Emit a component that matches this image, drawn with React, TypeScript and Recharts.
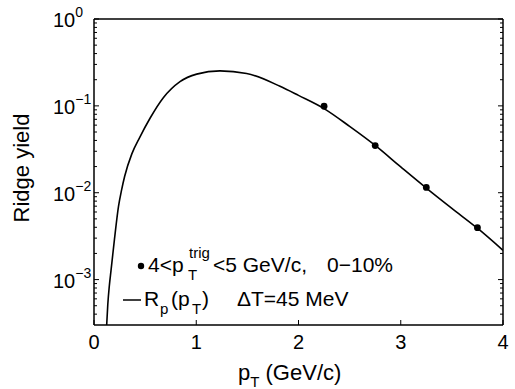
import React from 'react';
import { ComposedChart, Line, Scatter, XAxis, YAxis } from 'recharts';

// curve R_p(p_T)
const curvePt = [0.124, 0.135, 0.15, 0.166, 0.2, 0.24, 0.27, 0.3, 0.37, 0.45, 0.548, 0.678, 0.841, 1.004, 1.232, 1.493, 1.819, 2.0, 2.25, 2.5, 2.75, 3.0, 3.25, 3.5, 3.75, 4.0];
const curveYield = [3.0e-4, 5.2e-4, 8.5e-4, 1.26e-3, 2.9e-3, 7.0e-3, 0.0108, 0.0155, 0.028, 0.044, 0.072, 0.124, 0.19, 0.232, 0.253, 0.236, 0.168, 0.132, 0.093, 0.058, 0.035, 0.0198, 0.0113, 0.0066, 0.0039, 0.00217];

// measured ridge yield points
const dataPt = [2.25, 2.75, 3.25, 3.75];
const dataYield = [0.099, 0.0349, 0.0115, 0.00396];

const xTicks = [0, 1, 2, 3, 4];
const yTicks = [1e-3, 1e-2, 1e-1, 1];
const yExp = ['\u22123', '\u22122', '\u22121', '0'];
const yMinor = [
  4e-4, 5e-4, 6e-4, 7e-4, 8e-4, 9e-4,
  2e-3, 3e-3, 4e-3, 5e-3, 6e-3, 7e-3, 8e-3, 9e-3,
  2e-2, 3e-2, 4e-2, 5e-2, 6e-2, 7e-2, 8e-2, 9e-2,
  0.2, 0.3, 0.4, 0.5, 0.6, 0.7, 0.8, 0.9,
];
const yAll = [...yMinor, ...yTicks].sort((a, b) => a - b);

const curve = curvePt.map((x, i) => ({ x, y: curveYield[i] }));
const points = dataPt.map((x, i) => ({ x, y: dataYield[i] }));

const W = 515;
const H = 389;
// plot box: x 94..503, y 19..325
const PL = 94, PR = 503, PT = 19, PB = 325;
const FONT = '"Liberation Sans", Arial, Helvetica, sans-serif';
const AXIS = { stroke: '#000', strokeWidth: 1.5 };

const majorIdx = (v: number) =>
  yTicks.findIndex(t => Math.abs(Math.log10(t) - Math.log10(v)) < 1e-6);

const LeftTick = (props: any) => {
  const { payload } = props;
  const y = payload.coordinate;
  const i = majorIdx(payload.value);
  return (
    <g>
      <line x1={PL} x2={PL + (i >= 0 ? 5 : 3)} y1={y} y2={y} stroke="#000" />
      {i >= 0 && (
        <text x={53} y={y + 8} fontSize={20} fontFamily={FONT} fill="#000">
          10<tspan dy={-10} fontSize={14}>{yExp[i]}</tspan>
        </text>
      )}
    </g>
  );
};

const RightTick = (props: any) => {
  const { payload } = props;
  const y = payload.coordinate;
  const len = majorIdx(payload.value) >= 0 ? 5 : 3;
  return <line x1={PR} x2={PR - len} y1={y} y2={y} stroke="#000" />;
};

const BottomTick = (props: any) => {
  const { payload } = props;
  const x = payload.coordinate;
  return (
    <g>
      <line x1={x} x2={x} y1={PB} y2={PB - 5} stroke="#000" />
      <text x={x} y={PB + 24} textAnchor="middle" fontSize={20} fontFamily={FONT} fill="#000">
        {payload.value}
      </text>
    </g>
  );
};

const TopTick = (props: any) => {
  const x = props.payload.coordinate;
  return <line x1={x} x2={x} y1={PT} y2={PT + 5} stroke="#000" />;
};

const Dot = (p: any) => <circle cx={p.cx} cy={p.cy} r={3.4} fill="#000" />;

const yProps = {
  type: 'number' as const,
  scale: 'log' as const,
  domain: [3e-4, 1],
  allowDataOverflow: true,
  interval: 0 as const,
  ticks: yAll,
  tickLine: false,
  tickSize: 0,
  tickMargin: 0,
  axisLine: AXIS,
};

const xProps = {
  type: 'number' as const,
  domain: [0, 4],
  allowDataOverflow: true,
  interval: 0 as const,
  ticks: xTicks,
  tickLine: false,
  tickSize: 0,
  tickMargin: 0,
  axisLine: AXIS,
};

export default function App() {
  return (
    <div style={{ position: 'absolute', left: 0, top: 0, width: W, height: H, background: '#fff' }}>
      <ComposedChart width={W} height={H} margin={{ top: PT - 10, right: W - PR - 10, bottom: H - PB - 40, left: PL - 60 }}>
        <XAxis xAxisId="b" dataKey="x" height={40} tick={<BottomTick />} {...xProps} />
        <XAxis xAxisId="t" orientation="top" height={10} tick={<TopTick />} {...xProps} />
        <YAxis yAxisId="l" dataKey="y" width={60} tick={<LeftTick />} {...yProps} />
        <YAxis yAxisId="r" orientation="right" width={10} tick={<RightTick />} {...yProps} />
        <Line xAxisId="b" yAxisId="l" data={curve} dataKey="y" type="monotone" stroke="#000" strokeWidth={1.6}
          dot={false} activeDot={false} isAnimationActive={false} />
        <Scatter xAxisId="b" yAxisId="l" data={points} dataKey="y" fill="#000" shape={<Dot />} isAnimationActive={false} />
      </ComposedChart>

      <svg width={W} height={H} style={{ position: 'absolute', left: 0, top: 0, pointerEvents: 'none' }}
        fontFamily={FONT} fill="#000">
        <text transform="translate(29,168) rotate(-90)" textAnchor="middle" fontSize={22}>Ridge yield</text>
        <text x={238} y={380} fontSize={22}>
          p<tspan dy={7} fontSize={15}>T</tspan><tspan dy={-7}> (GeV/c)</tspan>
        </text>

        {/* legend */}
        <circle cx={141} cy={266} r={3.2} />
        <text x={148} y={272} fontSize={21}>4&lt;p</text>
        <text x={188} y={280} fontSize={15}>T</text>
        <text x={189} y={258} fontSize={15}>trig</text>
        <text x={213} y={272} fontSize={21}>&lt;5 GeV/c,</text>
        <text x={327} y={272} fontSize={21}>0{'\u2212'}10%</text>

        <line x1={123} x2={141} y1={300} y2={300} stroke="#000" strokeWidth={1.5} />
        <text x={144} y={306} fontSize={21}>R</text>
        <text x={160} y={314} fontSize={15}>p</text>
        <text x={171} y={306} fontSize={21}>(p</text>
        <text x={192} y={314} fontSize={15}>T</text>
        <text x={202} y={306} fontSize={21}>)</text>
        <text x={237} y={306} fontSize={21}>{'\u0394'}T=45 MeV</text>
      </svg>
    </div>
  );
}
